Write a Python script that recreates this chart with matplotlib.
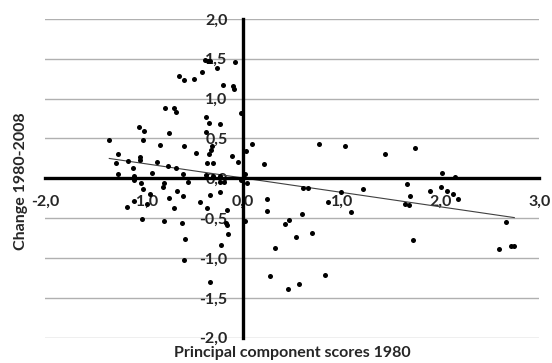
"""Scatter of principal component scores 1980 against change 1980-2008."""

import matplotlib

matplotlib.use("Agg")
import matplotlib.pyplot as plt  # noqa: E402
import numpy as np  # noqa: E402
from matplotlib.ticker import FuncFormatter  # noqa: E402

# values
scores_1980 = [
    -1.352, -1.264, -1.281, -1.160, -1.264, -1.109, -1.105, -1.105, -1.055, -0.998,
    -1.011, -1.041, -1.038, -0.923, -0.872, -0.836, -0.788, -0.751, -0.755, -0.694,
    -0.680, -0.680, -0.647, -0.596, -0.596, -0.603, -0.492, -0.478, -0.414, -0.381,
    -0.353, -0.333, -0.262, -0.201, -0.103, -0.090, -0.077, -0.377, -0.340, -0.229,
    -0.373, -0.310, -0.323, -0.340, -0.363, -0.300, -0.107, -0.047, -0.019, 0.028,
    0.095, 0.214, 0.024, -0.377, -0.303, -0.232, -0.232, -0.553, -1.028, -1.014,
    -0.802, -0.809, -0.022, 0.038, -1.176, -1.102, -0.937, -0.968, -1.021, -0.748,
    -0.697, -0.796, -0.664, -0.603, -0.616, -0.583, -0.596, -0.434, -0.360, -0.330,
    -0.235, -0.164, -0.171, -0.164, -0.151, -0.222, -0.336, 0.018, -0.188, 0.244,
    0.241, 0.328, 0.274, 0.611, 0.656, 0.993, 1.216, 1.658, 1.694, 1.641,
    1.684, 0.858, 1.094, 1.894, 2.005, 2.066, 2.127, 2.174, 0.595, 0.470,
    0.423, 0.537, 0.699, 1.725, 2.663, 2.589, 2.714, 2.747, 0.831, 0.460,
    0.565, 0.770, 1.033, 1.441, 1.739, 2.012, 2.147,
]
change_1980_2008 = [
    0.479, 0.307, 0.190, 0.219, 0.055, 0.127, 0.030, -0.020, 0.642, 0.595,
    0.479, 0.273, 0.231, 0.068, 0.206, 0.423, 0.876, 0.562, 0.160, 0.876,
    0.834, 0.134, 1.286, 1.232, 0.411, 0.059, 1.240, 0.315, 1.328, 1.487,
    1.475, 1.475, 1.383, 1.173, 1.152, 1.119, 1.459, 0.768, 0.692, 0.683,
    0.587, 0.411, 0.357, 0.310, 0.193, 0.193, 0.278, 0.206, 0.813, 0.340,
    0.432, 0.177, 0.059, 0.043, 0.030, 0.030, -0.041, -0.041, -0.062, -0.137,
    -0.062, -0.112, -0.020, -0.062, -0.359, -0.284, -0.192, -0.318, -0.514, -0.246,
    -0.372, -0.539, -0.158, -0.225, -0.557, -0.765, -1.029, -0.296, -0.368, -0.205,
    -0.171, -0.393, -0.557, -0.582, -0.698, -0.837, -1.298, -0.535, -0.041, -0.255,
    -0.413, -0.871, -1.226, -0.117, -0.117, -0.171, -0.129, -0.067, -0.225, -0.322,
    -0.330, -0.296, -0.418, -0.162, -0.104, -0.158, -0.192, -0.263, -0.451, -0.523,
    -0.577, -0.740, -0.686, -0.774, -0.548, -0.891, -0.845, -0.845, -1.214, -1.386,
    -1.323, 0.432, 0.403, 0.307, 0.382, 0.068, 0.021,
]
trend_slope = -0.181
trend_intercept = 0.004

x_ticks = [-2.0, -1.0, 0.0, 1.0, 2.0, 3.0]
y_ticks = [-2.0, -1.5, -1.0, -0.5, 0.0, 0.5, 1.0, 1.5, 2.0]

plt.rcParams["font.family"] = ["Lato", "DejaVu Sans"]

figure = plt.figure(figsize=(5.52, 3.63), dpi=100)
axis = figure.add_axes((0.082, 0.0697, 0.895, 0.8783))

x = np.array(scores_1980)
y = np.array(change_1980_2008)
axis.scatter(x, y, s=13, color="black", linewidths=0, zorder=3)

line_x = np.array([x.min(), x.max()])
axis.plot(line_x, trend_slope * line_x + trend_intercept, color="#404040",
          linewidth=0.8, zorder=2)

axis.set_xlim(-2, 3)
axis.set_ylim(-2, 2)
axis.set_xticks(x_ticks)
axis.set_yticks(y_ticks)
comma = FuncFormatter(lambda value, _: f"{value:.1f}".replace(".", ","))
axis.xaxis.set_major_formatter(comma)
axis.yaxis.set_major_formatter(comma)

for side in ("top", "right"):
    axis.spines[side].set_visible(False)
for side in ("left", "bottom"):
    axis.spines[side].set_position("zero")
    axis.spines[side].set_linewidth(2.4)
    axis.spines[side].set_zorder(4)

axis.tick_params(length=0, labelsize=11.5, colors="#262626")
axis.tick_params(axis="x", pad=12)
axis.tick_params(axis="y", pad=11)
for label in axis.get_xticklabels() + axis.get_yticklabels():
    label.set_fontweight("bold")

axis.yaxis.grid(True, color="#b0b0b0", linewidth=1.0, zorder=0)
axis.set_axisbelow(True)

figure.text(0.529, 0.028, "Principal component scores 1980", ha="center",
            va="center", fontsize=11.5, fontweight="bold", color="#262626")
figure.text(0.038, 0.5, "Change 1980-2008", ha="center", va="center",
            rotation=90, fontsize=11.5, fontweight="bold", color="#262626")

figure.savefig("out.png", dpi=100)
plt.close(figure)
